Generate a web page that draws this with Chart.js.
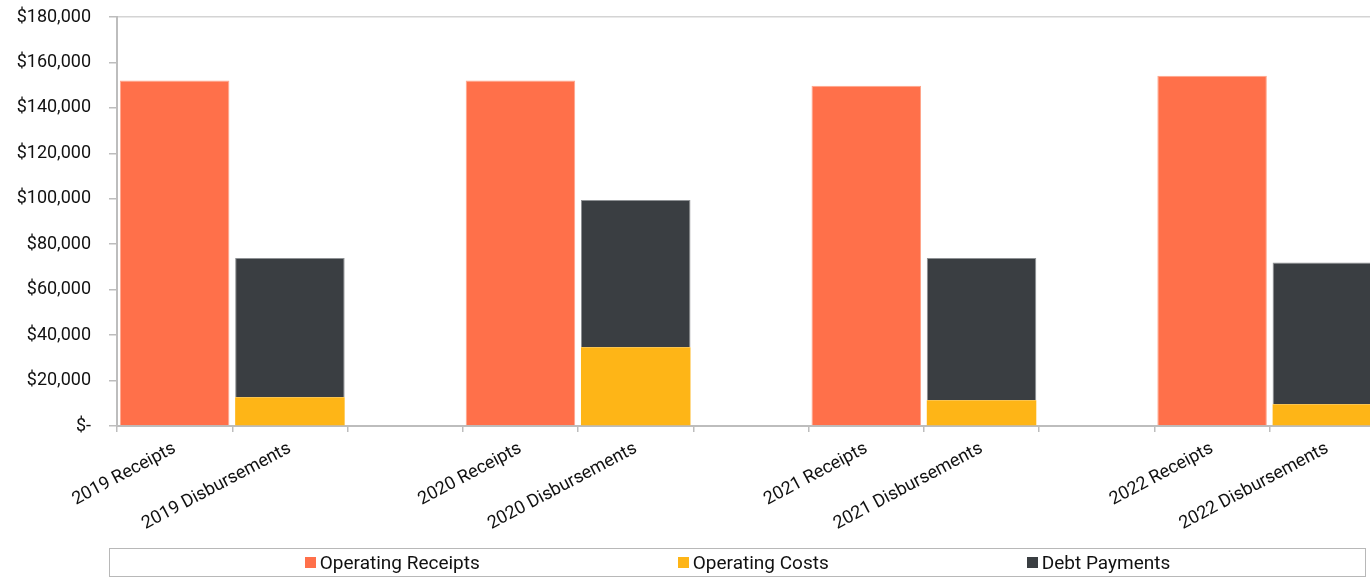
<!DOCTYPE html>
<html>
<head>
<meta charset="utf-8">
<script src="https://cdn.jsdelivr.net/npm/chart.js@4.4.1/dist/chart.umd.min.js"></script>
<style>
  html, body { margin: 0; padding: 0; background: #fff; overflow: hidden; }
  #wrap { position: relative; width: 1400px; height: 577px; }
  #legend {
    position: absolute; left: 109px; top: 548px; width: 1255px; height: 27px;
    border: 1px solid #b8b8b8; display: flex; justify-content: center; align-items: center;
    gap: 198px; font: 19px Roboto, sans-serif; color: #111;
  }
  #legend span.item { display: flex; align-items: center; }
  #legend i { display: inline-block; width: 11px; height: 11px; margin-right: 4px; }
</style>
</head>
<body>
<div id="wrap">
  <canvas id="cash-chart"></canvas>
  <div id="legend"></div>
</div>
<script>
const years = ["2019", "2020", "2021", "2022"];
const operatingReceipts = [152000, 152000, 149700, 154100];
const operatingCosts = [12650, 34680, 11330, 9560];
const debtPayments = [61250, 64780, 62570, 62450];

const seriesNames = ["Operating Receipts", "Operating Costs", "Debt Payments"];
const seriesColors = ["#ff704a", "#feb517", "#3a3e42"];

// receipts bar, disbursements bar, then an empty slot between years
const labels = [];
const receiptsRow = [], costsRow = [], debtRow = [];
years.forEach((y, i) => {
  labels.push(y + " Receipts", y + " Disbursements");
  receiptsRow.push(operatingReceipts[i], null);
  costsRow.push(null, operatingCosts[i]);
  debtRow.push(null, debtPayments[i]);
  if (i < years.length - 1) {
    labels.push("");
    receiptsRow.push(null);
    costsRow.push(null);
    debtRow.push(null);
  }
});

Chart.defaults.font.family = "Roboto, sans-serif";
Chart.defaults.font.size = 18;
Chart.defaults.color = "#111";

const chart = new Chart(document.getElementById("cash-chart"), {
  type: "bar",
  data: {
    labels: labels,
    datasets: [
      {
        label: seriesNames[0],
        data: receiptsRow,
        backgroundColor: seriesColors[0],
        borderColor: "#ffa68c",
        borderWidth: { top: 1, left: 1, right: 1, bottom: 0 },
      },
      {
        label: seriesNames[1],
        data: costsRow,
        backgroundColor: seriesColors[1],
        borderWidth: 0,
      },
      {
        label: seriesNames[2],
        data: debtRow,
        backgroundColor: seriesColors[2],
        borderColor: "#8e9194",
        borderWidth: { top: 1, left: 1, right: 1, bottom: 1 },
      },
    ],
  },
  options: {
    responsive: true,
    maintainAspectRatio: false,
    animation: false,
    categoryPercentage: 0.95,
    barPercentage: 1,
    layout: { padding: { left: 0, right: 15, top: 17, bottom: 0 } },
    plugins: {
      legend: { display: false },
      tooltip: { enabled: false },
    },
    scales: {
      x: {
        stacked: true,
        grid: { drawOnChartArea: false, tickLength: 6, tickColor: "#bdbdbd", lineWidth: 1.5 },
        border: { color: "#bdbdbd", width: 2 },
        ticks: { autoSkip: false, minRotation: 28, maxRotation: 28, padding: 6 },
        afterFit: (scale) => {
          scale.paddingLeft = 0;
          scale.paddingRight = 0;
          scale.height = 151;
        },
      },
      y: {
        stacked: true,
        min: 0,
        max: 180000,
        grid: {
          color: (ctx) => (ctx.tick && ctx.tick.value === 180000 ? "#d4d4d4" : "rgba(0,0,0,0)"),
          tickColor: "#bdbdbd",
          tickLength: 8,
          lineWidth: 1.5,
        },
        border: { color: "#bdbdbd", width: 2 },
        ticks: {
          stepSize: 20000,
          padding: 18,
          callback: (v) => (v === 0 ? "$-" : "$" + v.toLocaleString("en-US")),
        },
        afterFit: (scale) => {
          scale.paddingTop = 0;
          scale.paddingBottom = 0;
          scale.width = 117;
        },
      },
    },
  },
});

// boxed legend under the chart, built from the datasets
const legendEl = document.getElementById("legend");
chart.data.datasets.forEach((ds) => {
  const item = document.createElement("span");
  item.className = "item";
  const sw = document.createElement("i");
  sw.style.background = ds.backgroundColor;
  item.appendChild(sw);
  item.appendChild(document.createTextNode(ds.label));
  legendEl.appendChild(item);
});
</script>
</body>
</html>
